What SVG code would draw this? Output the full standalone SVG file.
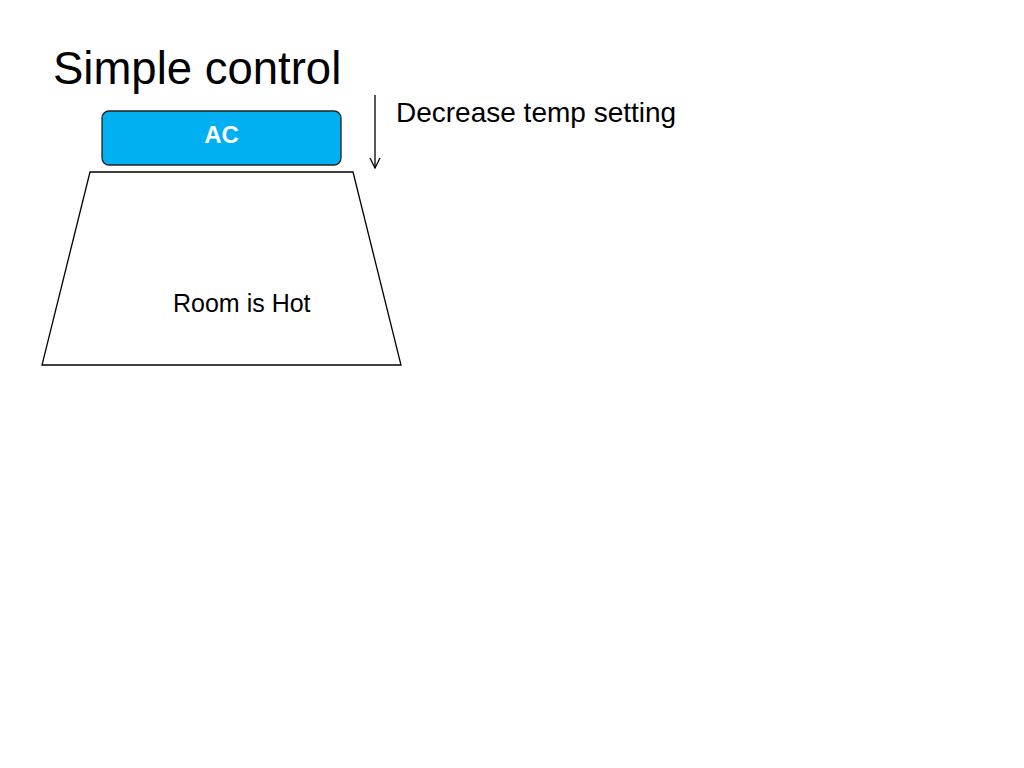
<svg xmlns="http://www.w3.org/2000/svg" width="1024" height="768" viewBox="0 0 1024 768">
<style>
text{font-family:"Liberation Sans",Arial,sans-serif;fill:#000}
.edge{stroke:#000;stroke-width:1.3;fill:none}
</style>
<defs>
<marker id="arr" viewBox="0 0 12 12" refX="11" refY="6" markerWidth="12" markerHeight="12" markerUnits="userSpaceOnUse" orient="auto">
<path d="M1,1 L11,6 L1,11" fill="none" stroke="#000" stroke-width="1.3"/>
</marker>
</defs>
<rect width="1024" height="768" fill="#fff"/>
<text x="53" y="84" font-size="45.5">Simple control</text>
<g id="room">
<polygon points="90,172 353,172 401,365 42,365" fill="#fff" stroke="#000" stroke-width="1.3"/>
<text x="173" y="312" font-size="25">Room is Hot</text>
</g>
<g id="ac">
<rect x="102" y="111" width="239" height="54" rx="7" fill="#00b0f0" stroke="#222" stroke-width="1.3"/>
<text x="221.5" y="143" font-size="24" font-weight="bold" fill="#fff" style="fill:#fff" text-anchor="middle">AC</text>
</g>
<g id="connectors">
<line class="edge" x1="375" y1="95" x2="375" y2="168" marker-end="url(#arr)"/>
<text x="396" y="122" font-size="28">Decrease temp setting</text>
</g>
</svg>
